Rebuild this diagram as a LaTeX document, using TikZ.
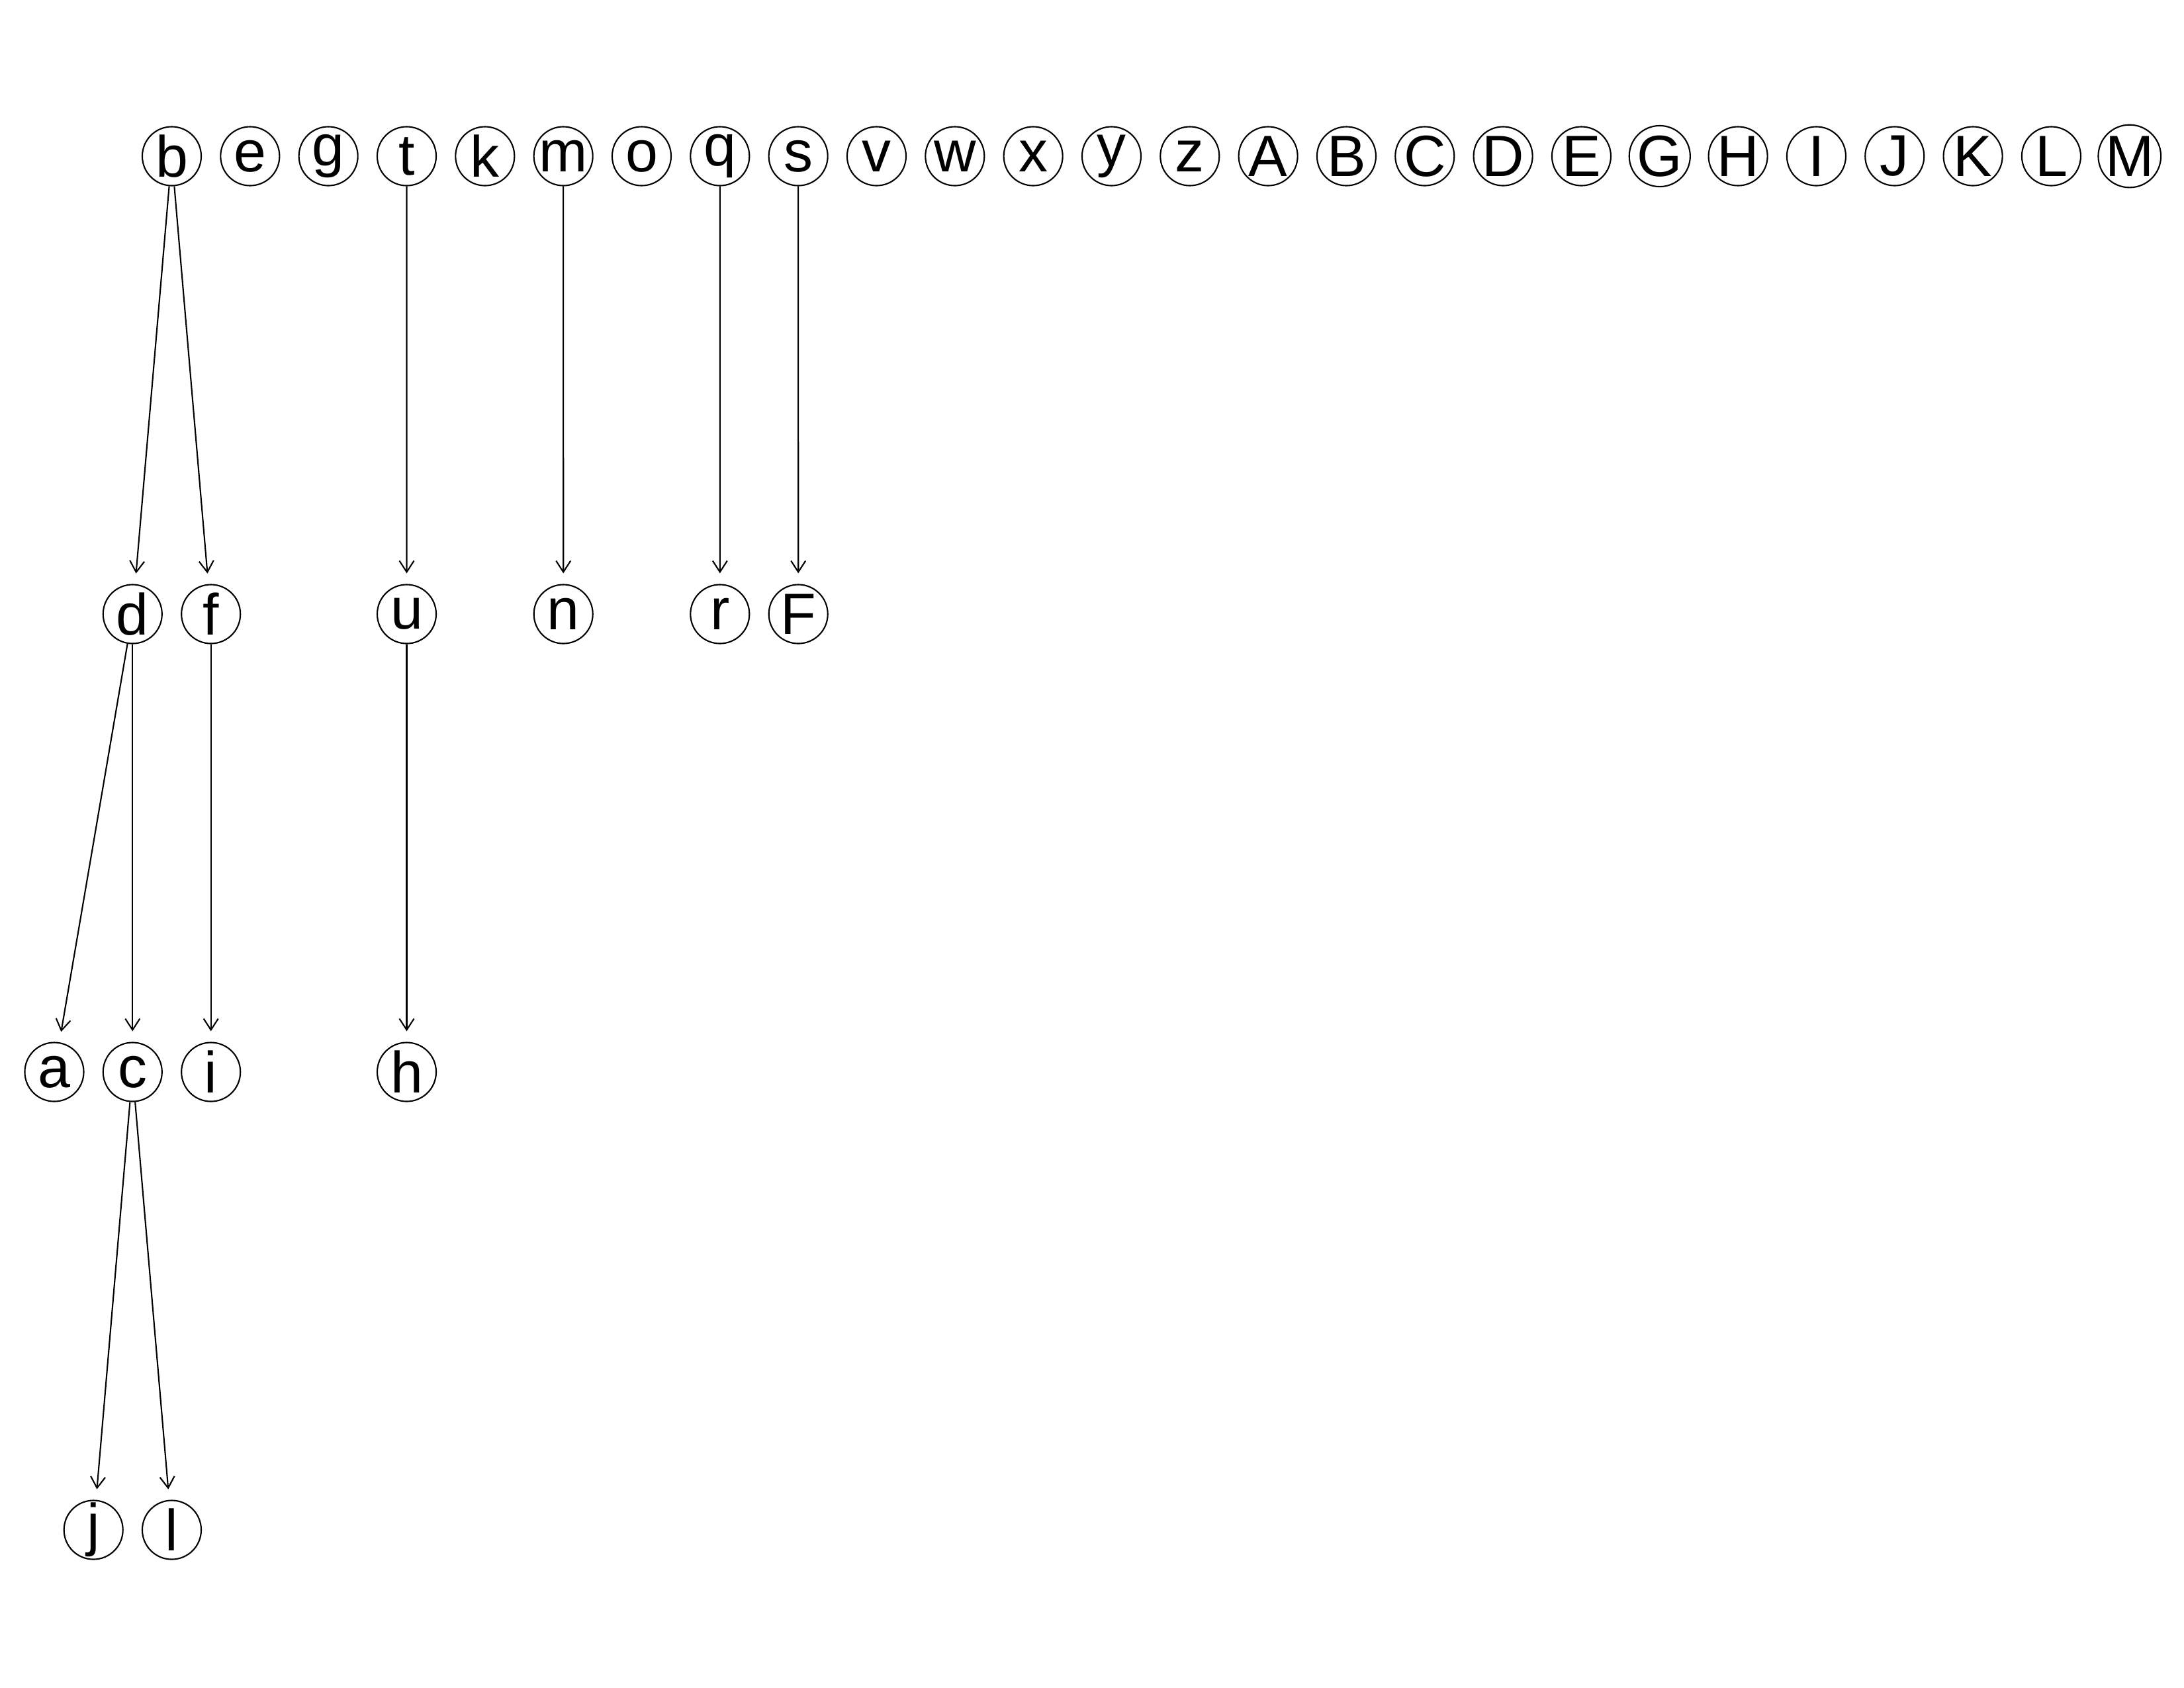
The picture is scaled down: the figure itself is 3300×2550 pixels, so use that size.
\documentclass[tikz,border=0pt]{standalone}
\usepackage{fontspec}
\setmainfont{Liberation Sans}
\usetikzlibrary{arrows.meta}
\begin{document}
\begin{tikzpicture}[x=0.01cm,y=-0.01cm,
  vtx/.style={circle, draw, line width=0.6pt, minimum size=0.89cm, inner sep=0pt, font=\fontsize{25}{30}\selectfont},
  edgearrow/.style={-{Straight Barb[length=0.17cm, width=0.22cm]}, line width=0.6pt, shorten >=0.16cm}]
\useasboundingbox (0,0) rectangle (3300,2550);
\foreach \l [count=\i from 0] in {b,e,g,t,k,m,o,q,s,v,w,x,y,z,A,B,C,D,E,G,H,I,J,K,L,M}
  \node[vtx] (v\l) at ({259.5+118.33*\i},236) {\l};
\node[vtx] (vd) at (200.3,928) {d};
\node[vtx] (vf) at (318.7,928) {f};
\node[vtx] (vu) at (614.5,928) {u};
\node[vtx] (vn) at (851.2,928) {n};
\node[vtx] (vr) at (1087.8,928) {r};
\node[vtx] (vF) at (1206.2,928) {F};
\node[vtx] (va) at (82,1620) {a};
\node[vtx] (vc) at (200.3,1620) {c};
\node[vtx] (vi) at (318.7,1620) {i};
\node[vtx] (vh) at (614.5,1620) {h};
\node[vtx] (vj) at (141.2,2312) {j};
\node[vtx] (vl) at (259.5,2312) {l};
\foreach \s/\t in {b/d,b/f,t/u,m/n,q/r,s/F,d/a,d/c,f/i,u/h,c/j,c/l}
  \draw[edgearrow] (v\s) -- (v\t);
\end{tikzpicture}
\end{document}
